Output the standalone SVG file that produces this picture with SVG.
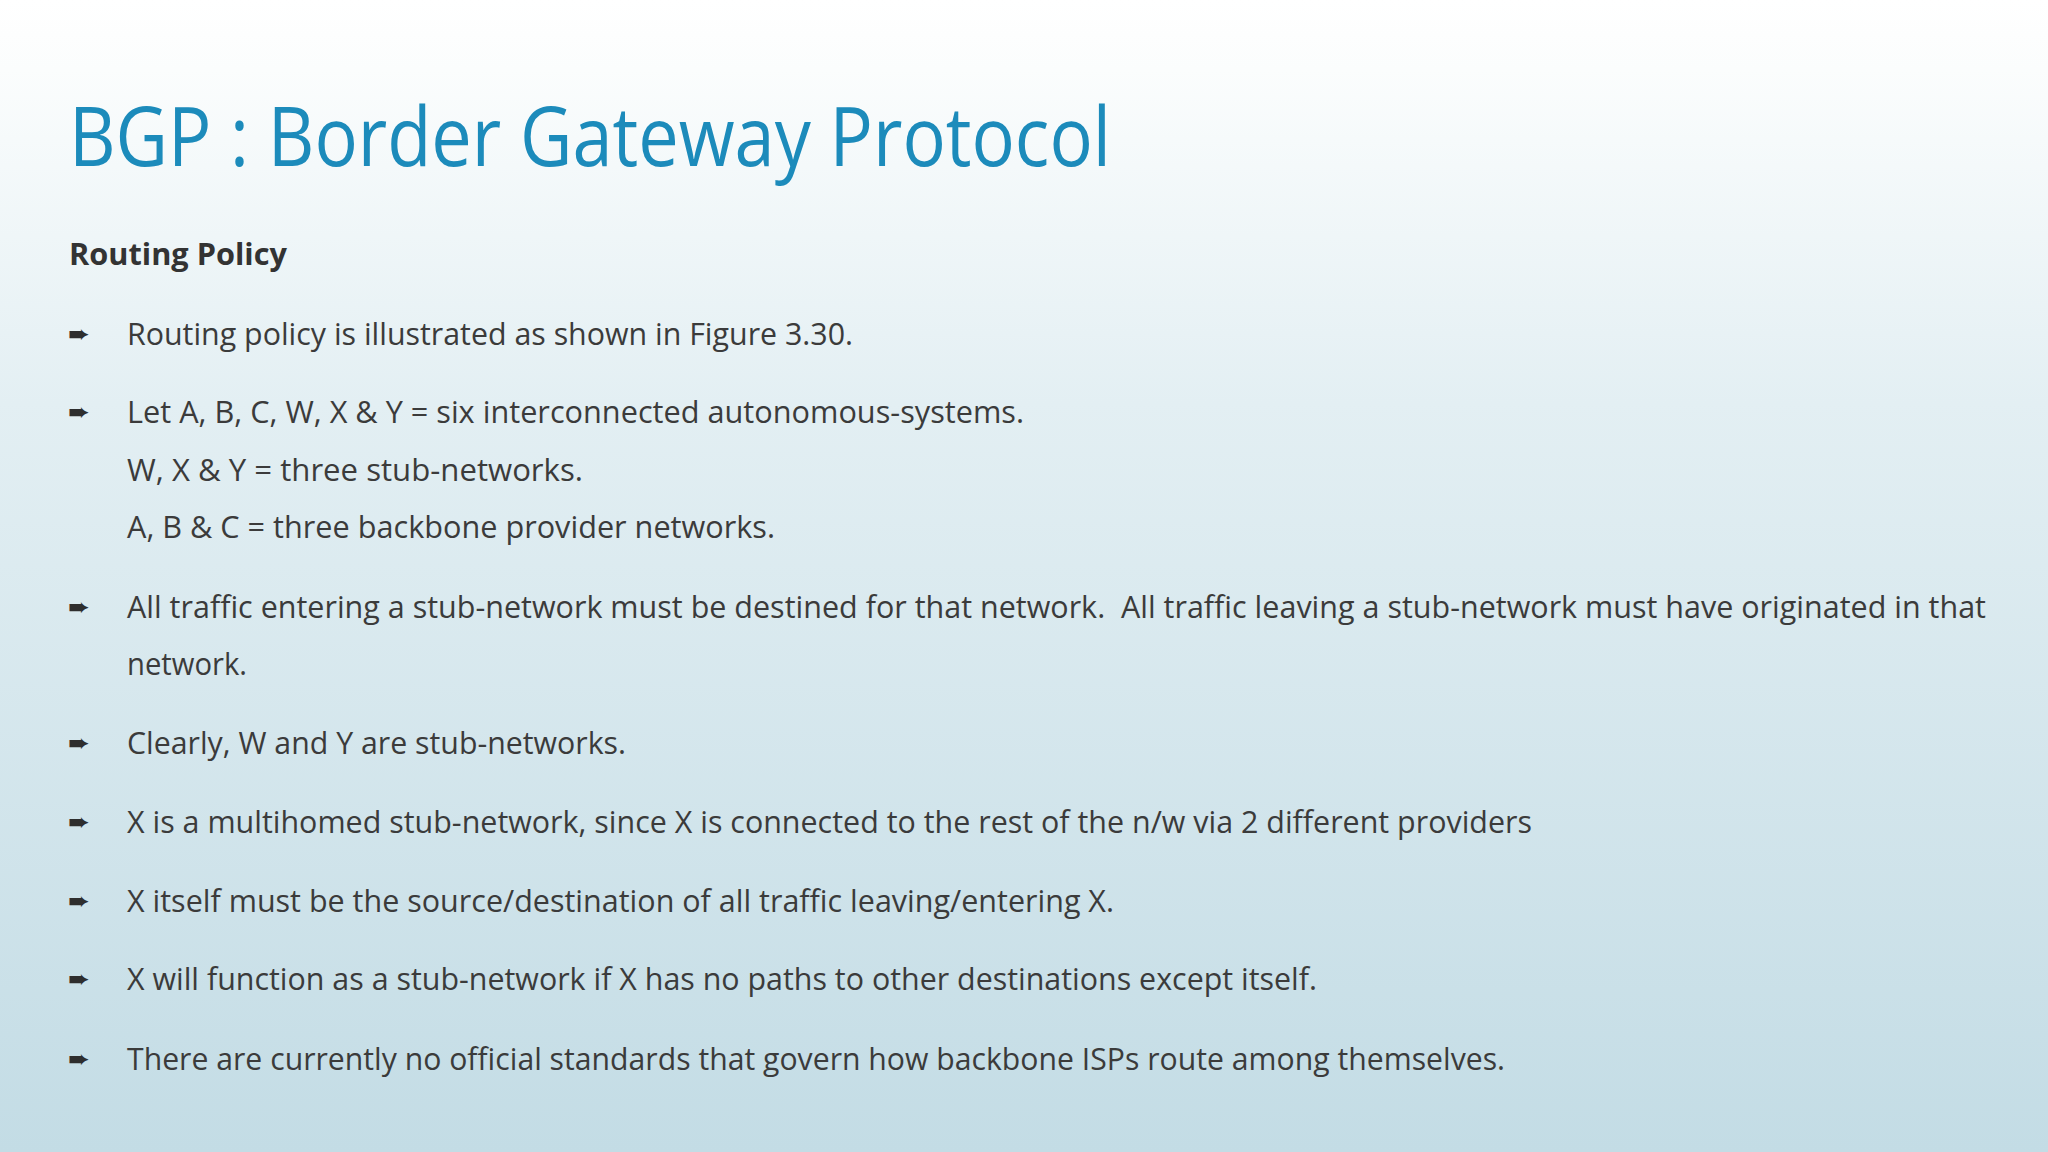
<svg xmlns="http://www.w3.org/2000/svg" width="2048" height="1152" viewBox="0 0 2048 1152">
<defs>
<linearGradient id="bg" x1="0" y1="0" x2="0" y2="1">
<stop offset="0" stop-color="#ffffff"/>
<stop offset="0.06" stop-color="#fbfdfd"/>
<stop offset="0.35" stop-color="#e3eff3"/>
<stop offset="1" stop-color="#c3dce5"/>
</linearGradient>
<style>
.t{font-family:"Open Sans","Noto Sans","Liberation Sans",sans-serif;font-size:31px;fill:#3b3b3b}
.b{font-family:"DejaVu Sans",sans-serif;font-size:26px;fill:#2e2e2e}
</style>
</defs>
<rect width="2048" height="1152" fill="url(#bg)"/>
<text x="69" y="166" font-family="Open Sans, Noto Sans, Liberation Sans, sans-serif" font-size="82" fill="#1c8bbb" textLength="1042" lengthAdjust="spacingAndGlyphs">BGP : Border Gateway Protocol</text>
<text x="69" y="265" font-family="Open Sans, Noto Sans, Liberation Sans, sans-serif" font-size="31" font-weight="bold" fill="#333" textLength="218" lengthAdjust="spacingAndGlyphs">Routing Policy</text>
<g class="b">
<text x="68" y="343">➨</text>
<text x="68" y="421">➨</text>
<text x="68" y="616">➨</text>
<text x="68" y="752">➨</text>
<text x="68" y="831">➨</text>
<text x="68" y="910">➨</text>
<text x="68" y="988">➨</text>
<text x="68" y="1068">➨</text>
</g>
<g class="t">
<text x="127" y="345" textLength="726" lengthAdjust="spacingAndGlyphs">Routing policy is illustrated as shown in Figure 3.30.</text>
<text x="127" y="423" textLength="897" lengthAdjust="spacingAndGlyphs">Let A, B, C, W, X &amp; Y = six interconnected autonomous-systems.</text>
<text x="127" y="481" textLength="456" lengthAdjust="spacingAndGlyphs">W, X &amp; Y = three stub-networks.</text>
<text x="127" y="538" textLength="648" lengthAdjust="spacingAndGlyphs">A, B &amp; C = three backbone provider networks.</text>
<text x="127" y="618" textLength="1859" lengthAdjust="spacingAndGlyphs" xml:space="preserve">All traffic entering a stub-network must be destined for that network.  All traffic leaving a stub-network must have originated in that</text>
<text x="127" y="675" textLength="120" lengthAdjust="spacingAndGlyphs">network.</text>
<text x="127" y="754" textLength="499" lengthAdjust="spacingAndGlyphs">Clearly, W and Y are stub-networks.</text>
<text x="127" y="833" textLength="1405" lengthAdjust="spacingAndGlyphs">X is a multihomed stub-network, since X is connected to the rest of the n/w via 2 different providers</text>
<text x="127" y="912" textLength="987" lengthAdjust="spacingAndGlyphs">X itself must be the source/destination of all traffic leaving/entering X.</text>
<text x="127" y="990" textLength="1190" lengthAdjust="spacingAndGlyphs">X will function as a stub-network if X has no paths to other destinations except itself.</text>
<text x="127" y="1070" textLength="1378" lengthAdjust="spacingAndGlyphs">There are currently no official standards that govern how backbone ISPs route among themselves.</text>
</g>
</svg>
